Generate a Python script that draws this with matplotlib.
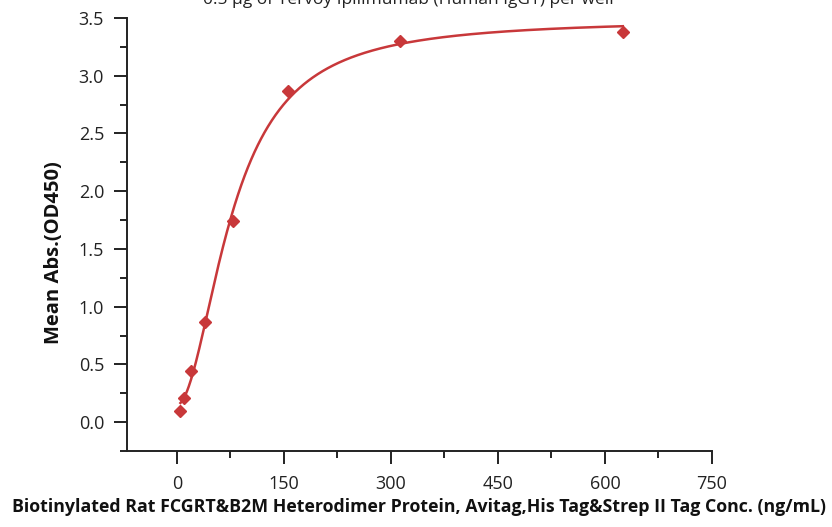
import numpy as np
import matplotlib
matplotlib.use("Agg")
import matplotlib.pyplot as plt
from matplotlib.ticker import MultipleLocator

# Data
conc = [4.88, 9.77, 19.53, 39.06, 78.125, 156.25, 312.5, 625.0]
od450 = [0.10, 0.21, 0.44, 0.87, 1.74, 2.87, 3.30, 3.38]
x_ticks = [0, 150, 300, 450, 600, 750]
y_ticks = [0.0, 0.5, 1.0, 1.5, 2.0, 2.5, 3.0, 3.5]
title = "0.5 μg of Yervoy Ipilimumab (Human IgG1) per well"
xlabel = "Biotinylated Rat FCGRT&B2M Heterodimer Protein, Avitag,His Tag&Strep II Tag Conc. (ng/mL)"
ylabel = "Mean Abs.(OD450)"

color = "#C8383A"
ink = "#222222"
FONT = "Open Sans"


def f4pl(p, x):
    a, b, c, d = p
    return d + (a - d) / (1.0 + (x / c) ** b)


def fit4pl(x, y, p0):
    p = np.array(p0, dtype=float)
    lam = 1e-2

    def res(p):
        return f4pl(p, x) - y

    r = res(p)
    cost = (r ** 2).sum()
    for _ in range(600):
        J = np.zeros((len(x), 4))
        for i in range(4):
            dp = np.zeros(4)
            h = 1e-6 * max(abs(p[i]), 1e-3)
            dp[i] = h
            J[:, i] = (res(p + dp) - r) / h
        A = J.T @ J
        g = J.T @ r
        step = np.linalg.solve(A + lam * np.diag(np.diag(A) + 1e-12), -g)
        pn = p + step
        if pn[2] <= 0:
            lam *= 10
            continue
        rn = res(pn)
        cn = (rn ** 2).sum()
        if cn < cost:
            p, r, cost = pn, rn, cn
            lam = max(lam / 3, 1e-9)
        else:
            lam *= 5
    return p


x = np.array(conc)
y = np.array(od450)
params = fit4pl(x, y, [0.0, 2.0, 80.0, 3.4])

fig = plt.figure(figsize=(8.32, 5.27), dpi=100)
ax = fig.add_axes([127 / 832, 1 - 451 / 527, (712 - 127) / 832, (451 - 18) / 527])

xs = np.linspace(min(conc), max(conc), 800)
ax.plot(xs, f4pl(params, xs), color=color, lw=1.8, zorder=2)
ax.plot(conc, od450, ls="none", marker="D", ms=6.5, color=color, zorder=3)

ax.set_xlim(-70, 750)
ax.set_ylim(-0.25, 3.5)
ax.set_xticks(x_ticks)
ax.set_yticks(y_ticks)
ax.set_yticklabels([f"{v:.1f}" for v in y_ticks])
ax.xaxis.set_minor_locator(MultipleLocator(75))
ax.yaxis.set_minor_locator(MultipleLocator(0.25))
for s in ["top", "right"]:
    ax.spines[s].set_visible(False)
for s in ["left", "bottom"]:
    ax.spines[s].set_linewidth(1.4)
    ax.spines[s].set_color(ink)
ax.tick_params(axis="both", which="major", direction="out", length=9.5, width=1.4,
               labelsize=13, colors=ink)
ax.tick_params(axis="x", which="major", pad=8)
ax.tick_params(axis="y", which="major", pad=7)
ax.tick_params(axis="both", which="minor", direction="out", length=5, width=1.4, colors=ink)
for lab in ax.get_xticklabels() + ax.get_yticklabels():
    lab.set_fontfamily(FONT)
    lab.set_color(ink)

ax.set_xlabel(xlabel, fontsize=12.8, fontweight="bold", family=FONT, color="#111111")
ax.set_ylabel(ylabel, fontsize=14.5, fontweight="bold", family=FONT, color="#111111")
ax.xaxis.set_label_coords((419 - 127) / (712 - 127), -(507 - 451) / (451 - 18))
ax.xaxis.label.set_va("center")
ax.yaxis.set_label_coords(-(127 - 54) / (712 - 127), (451 - 253) / (451 - 18))
ax.yaxis.label.set_va("center")

fig.text(408 / 832, 1 - 0 / 527, title, ha="center", va="center", fontsize=12.5,
         family=FONT, color=ink)

fig.savefig("out.png", dpi=100)
